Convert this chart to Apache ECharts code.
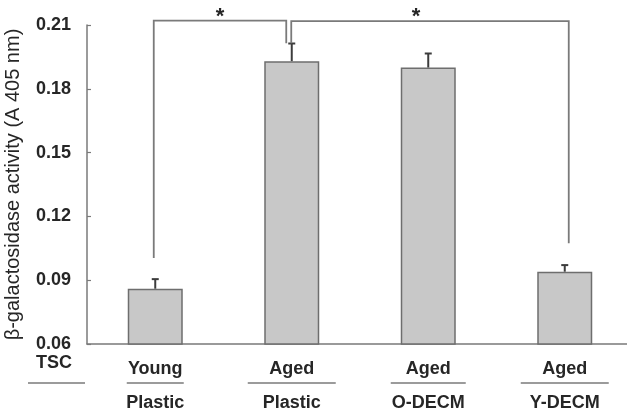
<!DOCTYPE html>
<html>
<head>
<meta charset="utf-8">
<script src="https://cdn.jsdelivr.net/npm/echarts@6/dist/echarts.min.js"></script>
<style>
  html, body { margin: 0; padding: 0; background: #fff; }
  #chart { width: 627px; height: 414px; }
</style>
</head>
<body>
<div id="chart"></div>
<script>
// Group labels: cell source (TSC) over culture substrate
const tscLabels = ['Young', 'Aged', 'Aged', 'Aged'];
const substrateLabels = ['Plastic', 'Plastic', 'O-DECM', 'Y-DECM'];

// β-galactosidase activity, mean and error (A 405 nm)
const means = [0.086, 0.193, 0.190, 0.094];
const errors = [0.0045, 0.0083, 0.0066, 0.0031];

// Value axis range and step
const yMin = 0.06;
const yMax = 0.21;
const yStep = 0.03;

// Significance brackets: [from group, to group]
const comparisons = [[0, 1], [1, 3]];
// Bracket leg ends [left, right] and bracket top, in axis units
const bracketLegs = [[0.1004, 0.2014], [0.2014, 0.1074]];
const bracketTops = [0.2121, 0.2118];
const bracketMarks = ['*', '*'];

// Styling constants
const GREY = '#7a7a7a';
const TEXT = '#262626';
const FONT = 'Arial, "Liberation Sans", sans-serif';
const legOffsets = [[-1.5, -5.5], [-0.5, 4]];
const starShift = [0, -14];
const underlineWidths = [57, 88, 75, 88];

const categories = tscLabels.map((t, i) => t + '|' + substrateLabels[i]);

const chart = echarts.init(document.getElementById('chart'), null, { renderer: 'canvas' });

const option = {
  animation: false,
  backgroundColor: '#fff',
  grid: { left: 87, right: -6, top: 25, bottom: 70, containLabel: false, outerBoundsMode: 'none' },
  xAxis: {
    type: 'category',
    data: categories,
    boundaryGap: true,
    axisLine: { lineStyle: { color: GREY, width: 1.5 } },
    axisTick: { inside: true, length: 5, interval: 0, lineStyle: { color: GREY, width: 1.2 } },
    axisLabel: {
      interval: 0,
      margin: 8,
      formatter: (val, idx) => '{t|' + tscLabels[idx] + '}\n{b|' + substrateLabels[idx] + '}',
      rich: {
        t: { fontFamily: FONT, fontSize: 18, fontWeight: 'bold', color: TEXT, lineHeight: 34 },
        b: { fontFamily: FONT, fontSize: 18, fontWeight: 'bold', color: TEXT, lineHeight: 34 }
      }
    },
    splitLine: { show: false }
  },
  yAxis: {
    type: 'value',
    min: yMin,
    max: yMax,
    interval: yStep,
    name: 'β-galactosidase activity (A 405 nm)',
    nameLocation: 'middle',
    nameRotate: 90,
    nameGap: 64,
    nameTextStyle: { fontFamily: FONT, fontSize: 20, color: TEXT },
    axisLine: { show: true, lineStyle: { color: GREY, width: 1.5 } },
    axisTick: { show: true, inside: true, length: 4, lineStyle: { color: GREY, width: 1.2 } },
    axisLabel: {
      margin: 16,
      fontFamily: FONT,
      fontSize: 18,
      fontWeight: 'bold',
      color: TEXT,
      formatter: v => v.toFixed(2)
    },
    splitLine: { show: false }
  },
  series: [
    {
      type: 'bar',
      data: means,
      barWidth: 55,
      itemStyle: { color: '#c8c8c8', borderColor: '#6e6e6e', borderWidth: 1.5 },
      z: 2
    },
    {
      // error bars: stem from the bar top with a short cap
      type: 'custom',
      data: means.map((m, i) => [i, m, m + errors[i]]),
      clip: false,
      z: 3,
      renderItem: (params, api) => {
        const base = api.coord([api.value(0), api.value(1)]);
        const top = api.coord([api.value(0), api.value(2)]);
        const half = 3.5;
        const st = { stroke: '#3c3c3c', lineWidth: 2 };
        return {
          type: 'group',
          children: [
            { type: 'line', shape: { x1: base[0], y1: base[1], x2: top[0], y2: top[1] }, style: st },
            { type: 'line', shape: { x1: top[0] - half, y1: top[1], x2: top[0] + half, y2: top[1] }, style: st }
          ]
        };
      }
    },
    {
      // significance brackets with their marks
      type: 'custom',
      data: comparisons.map((c, k) => [c[0], bracketLegs[k][0], c[1], bracketLegs[k][1], bracketTops[k], k]),
      clip: false,
      z: 4,
      renderItem: (params, api) => {
        const k = api.value(5);
        const a = api.coord([api.value(0), api.value(1)]);
        const b = api.coord([api.value(2), api.value(3)]);
        const topY = api.coord([api.value(0), api.value(4)])[1];
        const xa = a[0] + legOffsets[k][0];
        const xb = b[0] + legOffsets[k][1];
        return {
          type: 'group',
          children: [
            {
              type: 'polyline',
              shape: { points: [[xa, a[1]], [xa, topY], [xb, topY], [xb, b[1]]] },
              style: { stroke: GREY, lineWidth: 1.8, fill: null }
            },
            {
              type: 'text',
              style: {
                x: (xa + xb) / 2 + starShift[k],
                y: topY - 15,
                text: bracketMarks[k],
                fontFamily: FONT,
                fontSize: 22,
                fontWeight: 'bold',
                fill: TEXT,
                align: 'center',
                verticalAlign: 'top'
              }
            }
          ]
        };
      }
    }
  ]
};

chart.setOption(option);

// Row header and underlines separating the two label rows
const axisY = chart.convertToPixel({ yAxisIndex: 0 }, yMin);
const lineY = axisY + 39;
const graphics = [
  {
    type: 'text',
    style: {
      x: 72, y: axisY + 19, text: 'TSC',
      fontFamily: FONT, fontSize: 18, fontWeight: 'bold', fill: TEXT,
      align: 'right', verticalAlign: 'middle'
    }
  },
  {
    type: 'line',
    shape: { x1: 28, y1: lineY, x2: 85, y2: lineY },
    style: { stroke: GREY, lineWidth: 1.5 }
  }
];
categories.forEach((c, i) => {
  const cx = chart.convertToPixel({ xAxisIndex: 0 }, c);
  const w = underlineWidths[i];
  graphics.push({
    type: 'line',
    shape: { x1: cx - w / 2, y1: lineY, x2: cx + w / 2, y2: lineY },
    style: { stroke: GREY, lineWidth: 1.5 }
  });
});
chart.setOption({ graphic: graphics });
</script>
</body>
</html>
